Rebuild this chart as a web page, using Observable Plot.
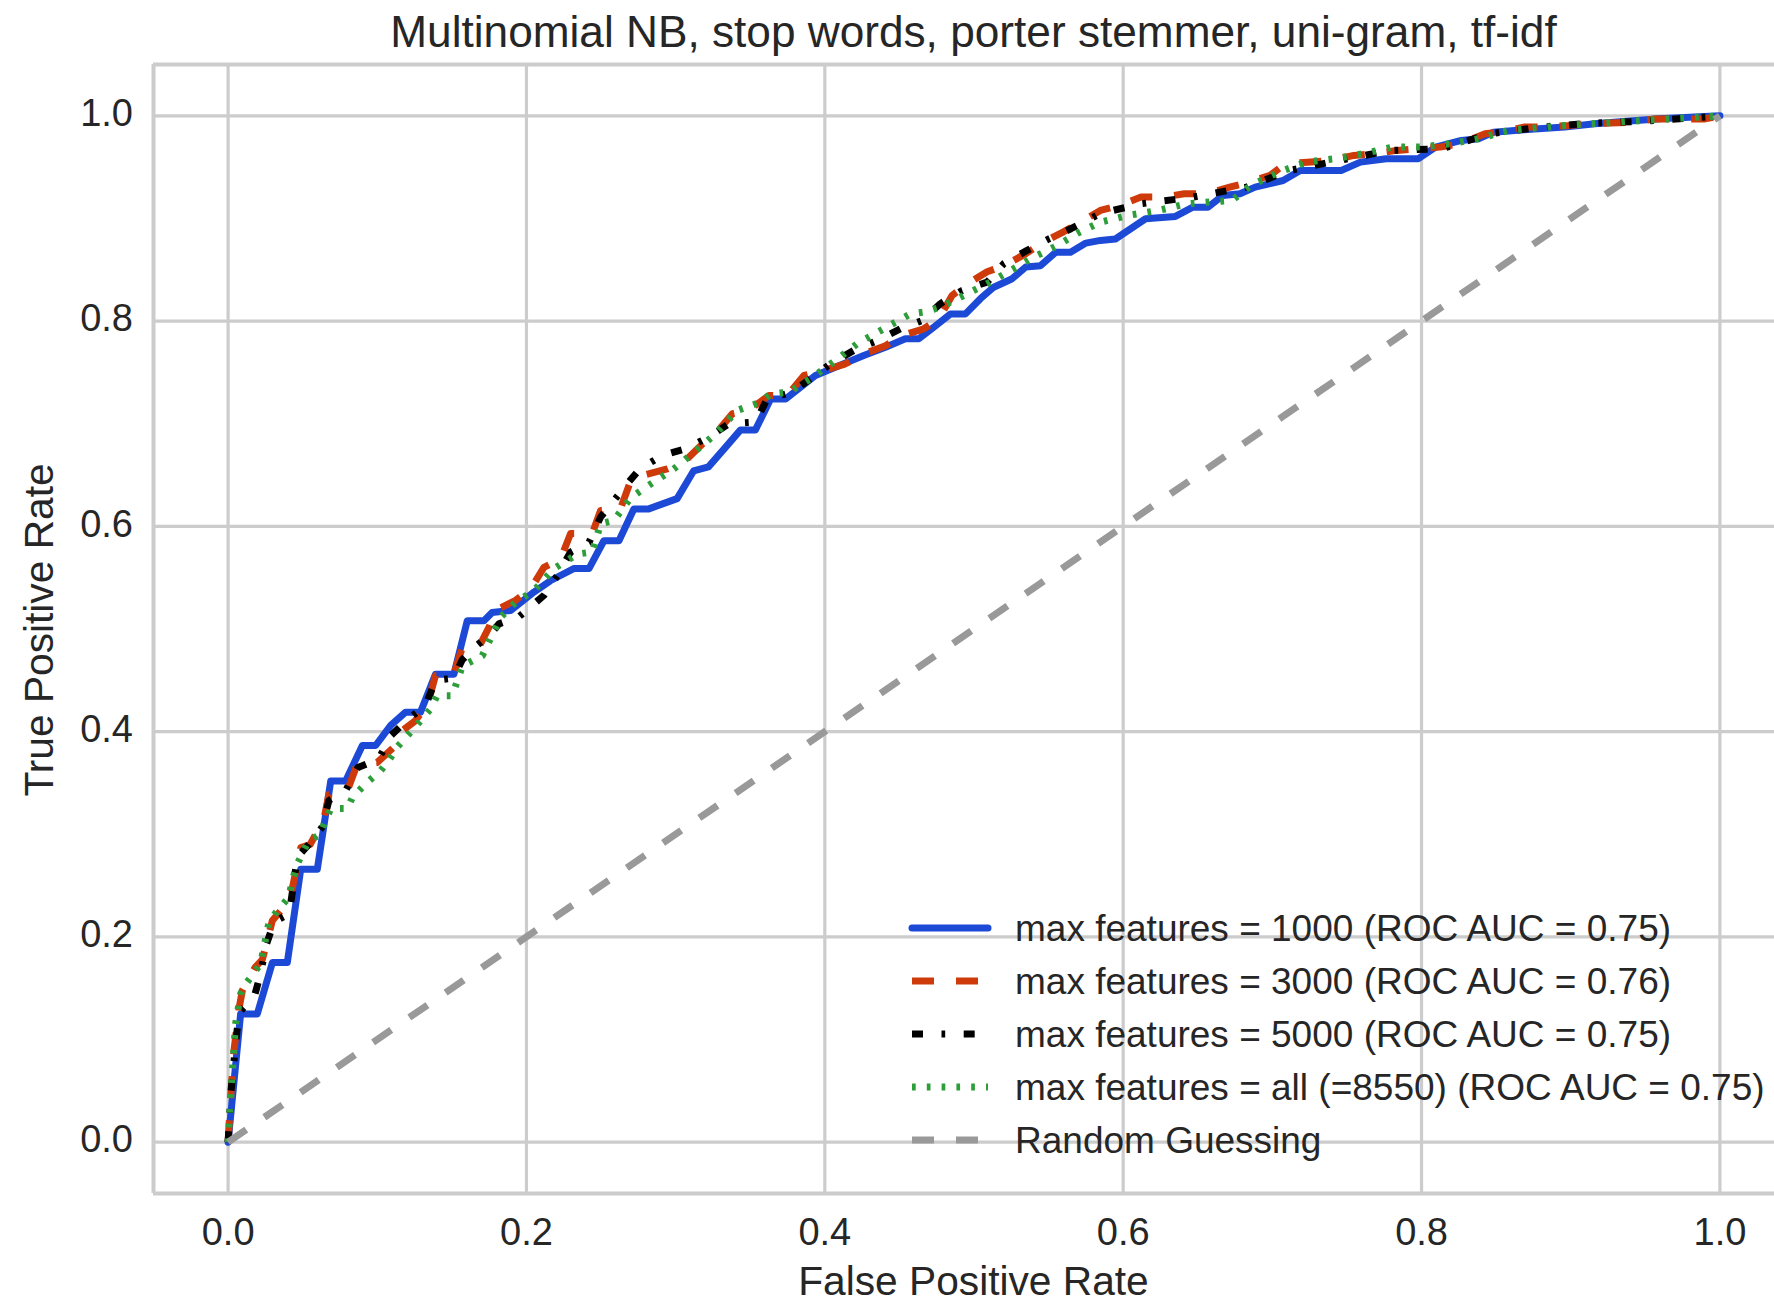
<!DOCTYPE html>
<html>
<head>
<meta charset="utf-8">
<script src="https://cdn.jsdelivr.net/npm/d3@7"></script>
<script src="https://cdn.jsdelivr.net/npm/@observablehq/plot@0.6"></script>
<style>
  html, body { margin: 0; padding: 0; background: #ffffff; overflow: hidden; }
</style>
</head>
<body>
<div id="chart"></div>
<script>
// ROC curves: [false positive rate, true positive rate]
const roc1000 = [[0,0],[0.0084,0.125],[0.0196,0.125],[0.0297,0.175],[0.0397,0.175],[0.0487,0.266],[0.0598,0.266],[0.0688,0.352],[0.0788,0.352],[0.090,0.3865],[0.0989,0.3865],[0.109,0.406],[0.119,0.419],[0.129,0.419],[0.139,0.456],[0.1514,0.456],[0.1603,0.508],[0.1715,0.508],[0.177,0.516],[0.1894,0.518],[0.205,0.536],[0.216,0.547],[0.232,0.559],[0.242,0.559],[0.2519,0.586],[0.262,0.586],[0.272,0.617],[0.282,0.617],[0.301,0.627],[0.312,0.654],[0.322,0.658],[0.3334,0.677],[0.3435,0.694],[0.3535,0.694],[0.3636,0.724],[0.3737,0.724],[0.3837,0.7356],[0.3937,0.747],[0.4127,0.7584],[0.4261,0.7665],[0.4407,0.7746],[0.454,0.7828],[0.463,0.7828],[0.473,0.794],[0.4842,0.807],[0.4943,0.807],[0.5043,0.8218],[0.5132,0.833],[0.5256,0.8413],[0.5346,0.8526],[0.5446,0.854],[0.5547,0.867],[0.5647,0.867],[0.575,0.876],[0.5847,0.8786],[0.5948,0.880],[0.615,0.8997],[0.635,0.902],[0.6467,0.911],[0.6568,0.911],[0.6668,0.9224],[0.6783,0.924],[0.6885,0.9305],[0.7072,0.937],[0.7187,0.9468],[0.7461,0.9468],[0.759,0.9549],[0.7763,0.9582],[0.7979,0.9582],[0.8094,0.9695],[0.8267,0.976],[0.8382,0.9777],[0.8483,0.9841],[0.8685,0.9865],[0.8959,0.989],[0.916,0.9922],[0.9593,0.9971],[1,1]];

const roc3000 = [[0,0],[0.002,0.05],[0.004,0.09],[0.0073,0.13],[0.0096,0.148],[0.018,0.17],[0.023,0.178],[0.0297,0.216],[0.035,0.225],[0.043,0.247],[0.0487,0.287],[0.055,0.29],[0.0643,0.315],[0.0676,0.339],[0.08,0.3426],[0.0866,0.3686],[0.1,0.37],[0.1123,0.3865],[0.1168,0.401],[0.125,0.41],[0.1336,0.4255],[0.139,0.4547],[0.151,0.4547],[0.157,0.482],[0.168,0.482],[0.175,0.502],[0.179,0.518],[0.1927,0.528],[0.2028,0.539],[0.2117,0.56],[0.2228,0.568],[0.2296,0.593],[0.2441,0.593],[0.2497,0.6155],[0.263,0.617],[0.27,0.645],[0.2787,0.65],[0.2944,0.656],[0.3055,0.6625],[0.3178,0.68],[0.3267,0.69],[0.338,0.7097],[0.349,0.713],[0.3625,0.7275],[0.3748,0.7275],[0.386,0.747],[0.3993,0.752],[0.4139,0.7584],[0.4261,0.768],[0.4407,0.776],[0.4518,0.786],[0.4663,0.7925],[0.4764,0.802],[0.4853,0.825],[0.4954,0.836],[0.5088,0.848],[0.521,0.8545],[0.535,0.866],[0.548,0.878],[0.56,0.887],[0.572,0.897],[0.5847,0.9078],[0.5977,0.9127],[0.612,0.9208],[0.6265,0.9208],[0.641,0.924],[0.6553,0.924],[0.6714,0.9305],[0.6843,0.9354],[0.6985,0.942],[0.7087,0.9533],[0.7259,0.955],[0.7388,0.9565],[0.7547,0.9614],[0.7677,0.963],[0.7835,0.9663],[0.7965,0.9679],[0.8123,0.9695],[0.8253,0.9728],[0.8426,0.9825],[0.8527,0.9841],[0.8685,0.989],[0.8815,0.989],[0.8988,0.9906],[0.9103,0.9922],[0.942,0.9938],[0.9564,0.997],[0.99,0.997],[1,1]];

const roc5000 = [[0,0],[0.002,0.05],[0.006,0.109],[0.0084,0.128],[0.0174,0.141],[0.022,0.165],[0.025,0.19],[0.031,0.215],[0.041,0.2225],[0.0464,0.2776],[0.054,0.29],[0.063,0.307],[0.0676,0.333],[0.0788,0.3426],[0.087,0.365],[0.101,0.3735],[0.109,0.396],[0.121,0.4125],[0.1324,0.4255],[0.139,0.45],[0.151,0.452],[0.157,0.47],[0.165,0.482],[0.176,0.495],[0.1815,0.505],[0.195,0.512],[0.2117,0.5327],[0.2207,0.5521],[0.2296,0.575],[0.242,0.5846],[0.2497,0.609],[0.2676,0.6415],[0.276,0.656],[0.291,0.669],[0.3066,0.6756],[0.3222,0.687],[0.3357,0.7],[0.3535,0.7015],[0.3614,0.7243],[0.3781,0.7307],[0.4038,0.7584],[0.4194,0.7714],[0.4351,0.781],[0.4507,0.7925],[0.4652,0.8006],[0.4775,0.817],[0.492,0.8298],[0.5088,0.838],[0.52,0.856],[0.5356,0.8689],[0.55,0.88],[0.565,0.89],[0.585,0.905],[0.612,0.9143],[0.6467,0.9208],[0.6825,0.9305],[0.7115,0.9468],[0.7446,0.9565],[0.7792,0.9663],[0.8138,0.9679],[0.8455,0.9825],[0.88,0.989],[0.9146,0.9929],[0.9492,0.9948],[0.9823,0.9981],[1,1]];

const rocAll = [[0,0],[0.002,0.05],[0.005,0.115],[0.0084,0.1445],[0.0118,0.154],[0.0218,0.174],[0.0274,0.2143],[0.033,0.2257],[0.0408,0.2387],[0.043,0.255],[0.0464,0.271],[0.054,0.294],[0.061,0.299],[0.0688,0.325],[0.08,0.325],[0.0833,0.336],[0.0933,0.3507],[0.1023,0.362],[0.1078,0.372],[0.1134,0.385],[0.1257,0.405],[0.1358,0.4222],[0.140,0.435],[0.1503,0.435],[0.157,0.464],[0.1704,0.474],[0.1827,0.5115],[0.1927,0.526],[0.205,0.5375],[0.2184,0.5587],[0.234,0.573],[0.2441,0.575],[0.2497,0.6025],[0.2586,0.6057],[0.27,0.628],[0.282,0.64],[0.2988,0.656],[0.3122,0.672],[0.3267,0.69],[0.3413,0.713],[0.3569,0.721],[0.3636,0.729],[0.3759,0.7307],[0.3904,0.7438],[0.4072,0.7617],[0.4217,0.778],[0.4395,0.7925],[0.4574,0.807],[0.4663,0.8087],[0.4775,0.8136],[0.4954,0.8266],[0.511,0.838],[0.5266,0.851],[0.54,0.8623],[0.555,0.873],[0.57,0.886],[0.5847,0.8964],[0.6034,0.903],[0.6236,0.9078],[0.6424,0.9143],[0.6731,0.9176],[0.6856,0.9322],[0.7043,0.9451],[0.723,0.955],[0.7417,0.9582],[0.7605,0.963],[0.7806,0.9695],[0.7994,0.9695],[0.8195,0.9728],[0.838,0.9777],[0.8584,0.9858],[0.8959,0.9906],[0.9305,0.9938],[0.965,0.997],[1,1]];

const chance = [[0,0],[1,1]];

const seriesLabels = [
  "max features = 1000 (ROC AUC = 0.75)",
  "max features = 3000 (ROC AUC = 0.76)",
  "max features = 5000 (ROC AUC = 0.75)",
  "max features = all (=8550) (ROC AUC = 0.75)",
  "Random Guessing"
];
const xTicks = [0.0, 0.2, 0.4, 0.6, 0.8, 1.0];
const yTicks = [0.0, 0.2, 0.4, 0.6, 0.8, 1.0];
const titleText = "Multinomial NB, stop words, porter stemmer, uni-gram, tf-idf";
const xLabel = "False Positive Rate";
const yLabel = "True Positive Rate";

// line styles, in drawing order
const styles = [
  {stroke: "#1c4ad6", strokeWidth: 7, strokeDasharray: null, strokeLinecap: "round"},
  {stroke: "#cf3a0b", strokeWidth: 7, strokeDasharray: "22,22", strokeLinecap: "butt"},
  {stroke: "#000000", strokeWidth: 7, strokeDasharray: "11,18.5,3.7,18.5", strokeLinecap: "butt"},
  {stroke: "#2e9e3a", strokeWidth: 7, strokeDasharray: "3.7,11.1", strokeLinecap: "butt"},
  {stroke: "#999999", strokeWidth: 7, strokeDasharray: "22,22", strokeLinecap: "butt"}
];
const curves = [roc1000, roc3000, roc5000, rocAll, chance];

const font = "Arial, 'Liberation Sans', Helvetica, sans-serif";
const textColor = "#262626";
const gridColor = "#cccccc";

const W = 1774, H = 1303;
const frameLeft = 153, frameTop = 64, frameBottom = 1193, frameRight = 1794;

const lineMarks = curves.map((c, i) => Plot.line(c, {
  x: d => d[0], y: d => d[1],
  stroke: styles[i].stroke,
  strokeWidth: styles[i].strokeWidth,
  strokeDasharray: styles[i].strokeDasharray,
  strokeLinecap: styles[i].strokeLinecap,
  strokeLinejoin: "round"
}));

const chart = Plot.plot({
  width: W,
  height: H,
  marginTop: frameTop,
  marginBottom: H - frameBottom,
  marginLeft: frameLeft,
  marginRight: 0,
  style: {fontFamily: font, color: textColor, background: "#ffffff", overflow: "hidden"},
  x: {domain: [-0.05, 1.05], range: [frameLeft, frameRight]},
  y: {domain: [-0.05, 1.05]},
  marks: [
    Plot.gridX(xTicks, {stroke: gridColor, strokeOpacity: 1, strokeWidth: 3.2}),
    Plot.gridY(yTicks, {stroke: gridColor, strokeOpacity: 1, strokeWidth: 3.2}),
    Plot.ruleX([-0.05], {stroke: gridColor, strokeWidth: 4}),
    Plot.ruleY([-0.05, 1.05], {stroke: gridColor, strokeWidth: 4}),
    Plot.axisX(xTicks, {tickSize: 0, tickPadding: 25, fontSize: 38, label: null, tickFormat: d => d.toFixed(1), fill: textColor}),
    Plot.axisY(yTicks, {tickSize: 0, tickPadding: 20.5, fontSize: 38, label: null, tickFormat: d => d.toFixed(1), fill: textColor, dy: -2}),
    ...lineMarks
  ]
});

document.getElementById("chart").appendChild(chart);

const svg = d3.select(chart);

// title and axis labels
svg.append("text")
  .attr("x", (frameLeft + frameRight) / 2).attr("y", 46.7)
  .attr("text-anchor", "middle")
  .attr("font-family", font).attr("font-size", 44.2).attr("fill", textColor)
  .text(titleText);

svg.append("text")
  .attr("x", (frameLeft + frameRight) / 2).attr("y", 1295)
  .attr("text-anchor", "middle")
  .attr("font-family", font).attr("font-size", 40.7).attr("fill", textColor)
  .text(xLabel);

svg.append("text")
  .attr("transform", "translate(52.5,630) rotate(-90)")
  .attr("text-anchor", "middle")
  .attr("font-family", font).attr("font-size", 40.7).attr("fill", textColor)
  .text(yLabel);

// legend, lower right
const legend = svg.append("g").attr("text-anchor", "start");
const rowY = [928, 981, 1034, 1087, 1140];
seriesLabels.forEach((label, i) => {
  const s = styles[i];
  legend.append("line")
    .attr("x1", 912).attr("x2", 988)
    .attr("y1", rowY[i]).attr("y2", rowY[i])
    .attr("stroke", s.stroke)
    .attr("stroke-width", s.strokeWidth)
    .attr("stroke-dasharray", s.strokeDasharray)
    .attr("stroke-linecap", s.strokeLinecap);
  legend.append("text")
    .attr("x", 1015).attr("y", rowY[i] + 13)
    .attr("text-anchor", "start")
    .attr("font-family", font).attr("font-size", 37).attr("fill", textColor)
    .text(label);
});
</script>
</body>
</html>
